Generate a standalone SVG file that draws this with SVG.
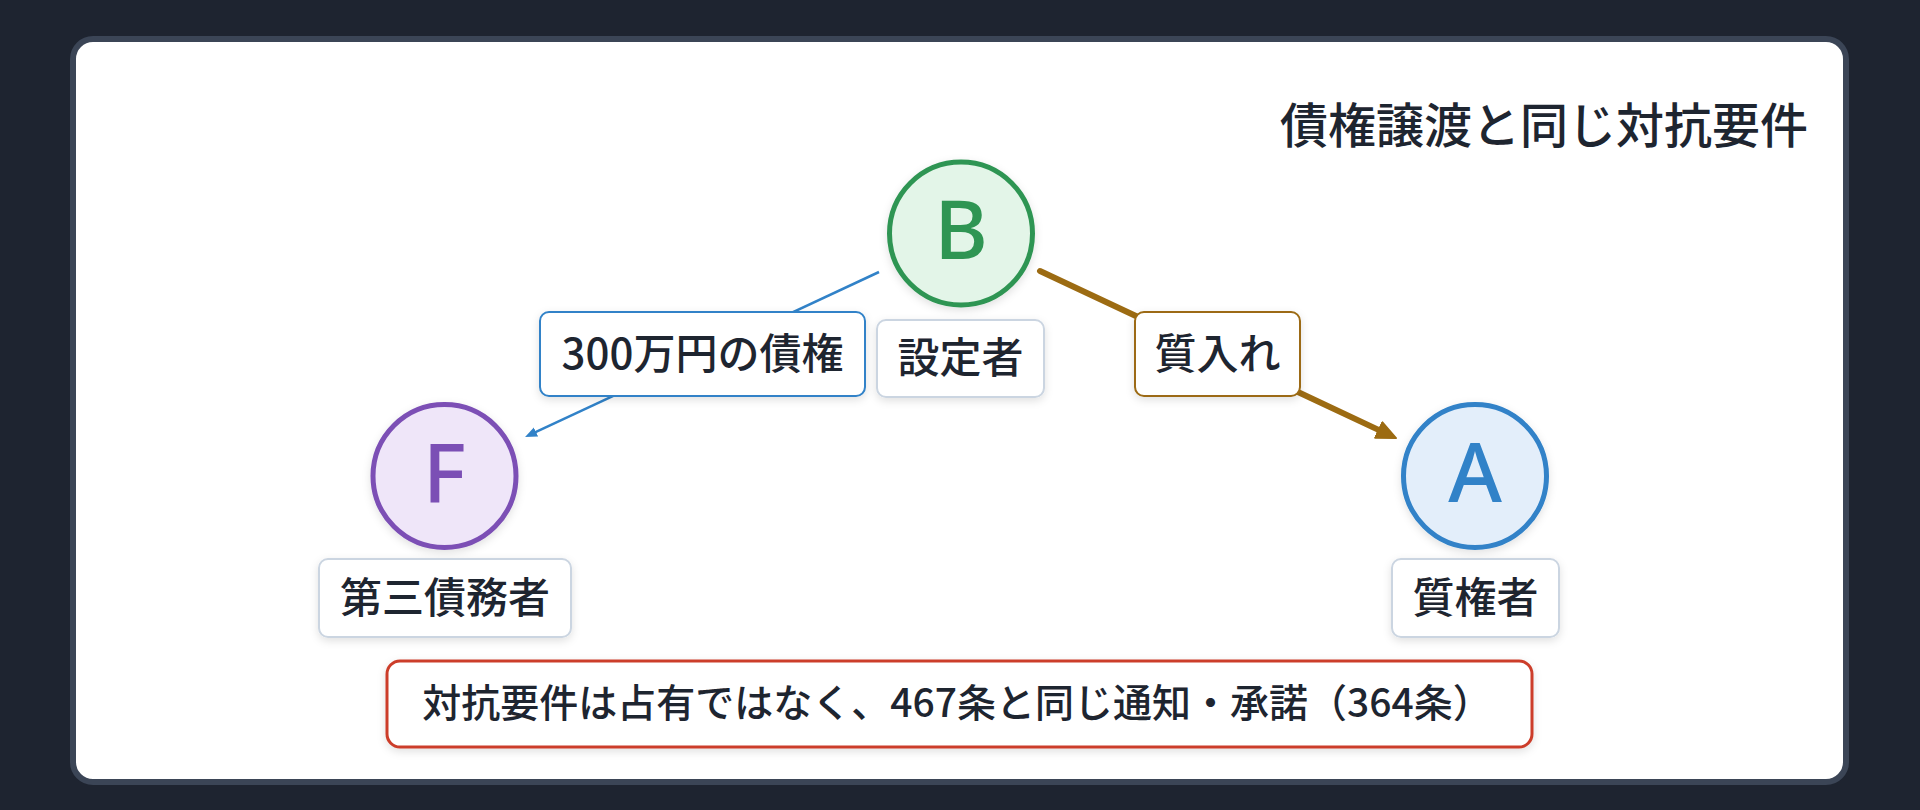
<svg xmlns="http://www.w3.org/2000/svg" width="1920" height="810" viewBox="0 0 1920 810">
  <defs>
    <style>
      .jp { font-family: "Noto Sans CJK JP", "Noto Sans", sans-serif; fill: #1e2530; }
      .lbl { font-size: 42px; text-anchor: middle; font-weight: 500; }
      .box { fill: #ffffff; stroke: #cbd5e1; stroke-width: 2; }
      .letter { font-family: "Noto Sans", "DejaVu Sans", sans-serif; font-size: 82px; font-weight: 500; text-anchor: middle; }
    </style>
    <filter id="shadow" x="-20%" y="-20%" width="140%" height="150%">
      <feDropShadow dx="0" dy="3" stdDeviation="4" flood-color="#000000" flood-opacity="0.12"/>
    </filter>
    <marker id="arrBrown" markerUnits="userSpaceOnUse" markerWidth="24" markerHeight="22" refX="6" refY="10" orient="auto">
      <path d="M1,1.5 L20,10 L1,18.5 z" fill="#9c6b12" stroke="#9c6b12" stroke-width="2" stroke-linejoin="round"/>
    </marker>
    <marker id="arrBlue" markerUnits="userSpaceOnUse" markerWidth="14" markerHeight="12" refX="4" refY="6" orient="auto">
      <path d="M0,1 L12,6 L0,11 z" fill="#3182c8"/>
    </marker>
  </defs>

  <rect x="0" y="0" width="1920" height="810" fill="#1e2430"/>
  <rect x="73" y="39" width="1773" height="743" rx="20" fill="#ffffff" stroke="#3b4556" stroke-width="6"/>

  <text class="jp" x="1808" y="143" font-size="48" text-anchor="end" font-weight="500">債権譲渡と同じ対抗要件</text>

  <g id="connectors">
    <line x1="879" y1="272" x2="532.3" y2="433.6" stroke="#3182c8" stroke-width="2.5" marker-end="url(#arrBlue)"/>
    <line x1="1040" y1="271" x2="1383.3" y2="432.1" stroke="#9c6b12" stroke-width="6" stroke-linecap="round" marker-end="url(#arrBrown)"/>
    <g id="label-debt">
      <rect x="540" y="312" width="325" height="84" rx="9" fill="#ffffff" stroke="#3182c8" stroke-width="2" filter="url(#shadow)"/>
      <text class="jp lbl" x="702.5" y="369">300万円の債権</text>
    </g>
    <g id="label-pledge">
      <rect x="1135" y="312" width="165" height="84" rx="9" fill="#ffffff" stroke="#9c6b12" stroke-width="2" filter="url(#shadow)"/>
      <text class="jp lbl" x="1217.5" y="369">質入れ</text>
    </g>
  </g>

  <g id="node-B">
    <circle cx="961" cy="233.5" r="71.5" fill="#e3f5e8" stroke="#2f9553" stroke-width="5" filter="url(#shadow)"/>
    <text class="letter" x="961" y="259" fill="#2f9553">B</text>
    <rect class="box" x="877" y="320" width="167" height="77" rx="9" filter="url(#shadow)"/>
    <text class="jp lbl" x="960.5" y="373">設定者</text>
  </g>

  <g id="node-F">
    <circle cx="444.5" cy="476" r="71.5" fill="#efe6f9" stroke="#7b4fb5" stroke-width="5" filter="url(#shadow)"/>
    <text class="letter" x="444.5" y="501.5" fill="#7b4fb5">F</text>
    <rect class="box" x="319" y="559" width="252" height="78" rx="9" filter="url(#shadow)"/>
    <text class="jp lbl" x="445" y="613">第三債務者</text>
  </g>

  <g id="node-A">
    <circle cx="1475" cy="476" r="71.5" fill="#e3eefa" stroke="#3182c8" stroke-width="5" filter="url(#shadow)"/>
    <text class="letter" x="1475" y="501.5" fill="#3182c8">A</text>
    <rect class="box" x="1392" y="559" width="167" height="78" rx="9" filter="url(#shadow)"/>
    <text class="jp lbl" x="1475.5" y="613">質権者</text>
  </g>

  <g id="note">
    <rect x="387" y="661" width="1145" height="86" rx="13" fill="#ffffff" stroke="#cc3e2a" stroke-width="3" filter="url(#shadow)"/>
    <text class="jp" x="957" y="717" font-size="39" text-anchor="middle" font-weight="500">対抗要件は占有ではなく、467条と同じ通知・承諾（364条）</text>
  </g>
</svg>
